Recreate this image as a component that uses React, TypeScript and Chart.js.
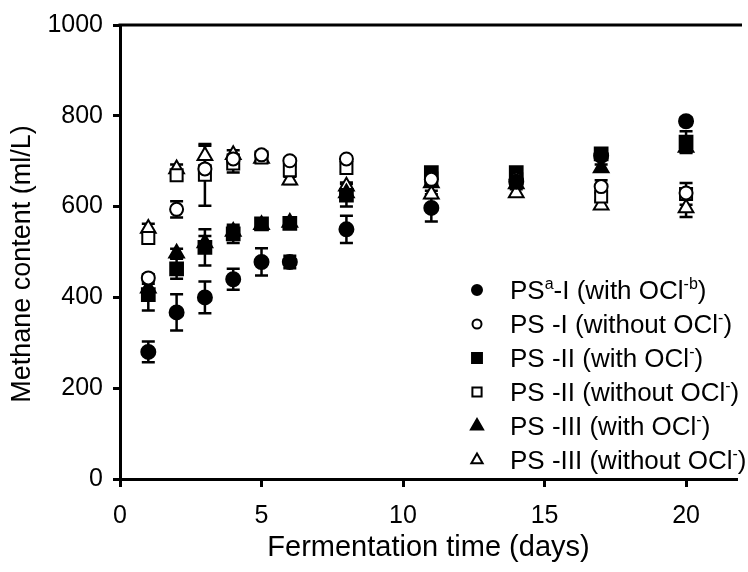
import React, { useEffect, useRef } from "react";
import { Chart, registerables } from "chart.js";
import { drawPoint } from "chart.js/helpers";

Chart.register(...registerables);

// ---------- data ----------
const days = [1, 2, 3, 4, 5, 6, 8, 11, 14, 17, 20];

const ps1With = [280, 367, 400, 440, 478, 478, 550, 597, 655, 712, 788];
const ps1WithErr = [23, 40, 35, 23, 30, 14, 30, 30, 8, 8, 8];

const ps1Without = [443, 594, 683, 705, 714, 701, 705, 660, 660, 644, 630];
const ps1WithoutErr = [8, 18, 8, 8, 6, 6, 6, 8, 8, 14, 8];

const ps2With = [406, 463, 510, 540, 562, 563, 625, 675, 675, 716, 742];
const ps2WithErr = [35, 22, 40, 20, 8, 6, 25, 8, 8, 8, 24];

const ps2Without = [531, 669, 670, 695, 708, 680, 685, 662, 660, 622, 628];
const ps2WithoutErr = [10, 10, 68, 20, 8, 8, 8, 8, 8, 8, 24];

const ps3With = [420, 497, 520, 545, 560, 565, 630, 652, 650, 685, 730];
const ps3WithErr = [10, 10, 15, 10, 8, 8, 8, 8, 8, 8, 10];

const ps3Without = [552, 683, 712, 714, 706, 658, 645, 627, 630, 603, 597];
const ps3WithoutErr = [10, 10, 22, 10, 8, 8, 8, 8, 8, 8, 20];

const xTicks = [0, 5, 10, 15, 20];
const yTicks = [0, 200, 400, 600, 800, 1000];

const xTitle = "Fermentation time (days)";
const yTitle = "Methane content (ml/L)";

// legend labels, ^{...} marks superscript
const legendLabels = [
  "PS^{a}-I (with OCl^{-b})",
  "PS -I (without OCl^{-})",
  "PS -II (with OCl^{-})",
  "PS -II (without OCl^{-})",
  "PS -III (with OCl^{-})",
  "PS -III (without OCl^{-})",
];

const FONT = "'Liberation Sans', Arial, Helvetica, sans-serif";

type SeriesDef = {
  data: number[];
  err: number[];
  style: "circle" | "rect" | "triangle";
  filled: boolean;
  radius: number;
  legendRadius: number;
};

const series: SeriesDef[] = [
  { data: ps1With, err: ps1WithErr, style: "circle", filled: true, radius: 7, legendRadius: 5 },
  { data: ps1Without, err: ps1WithoutErr, style: "circle", filled: false, radius: 6.5, legendRadius: 4.5 },
  { data: ps2With, err: ps2WithErr, style: "rect", filled: true, radius: 9, legendRadius: 7 },
  { data: ps2Without, err: ps2WithoutErr, style: "rect", filled: false, radius: 8.5, legendRadius: 6.5 },
  { data: ps3With, err: ps3WithErr, style: "triangle", filled: true, radius: 8.5, legendRadius: 7 },
  { data: ps3Without, err: ps3WithoutErr, style: "triangle", filled: false, radius: 8.5, legendRadius: 6.5 },
];

function parseSegments(s: string) {
  const out: { t: string; sup: boolean }[] = [];
  const re = /\^\{([^}]*)\}/g;
  let last = 0;
  let m: RegExpExecArray | null;
  while ((m = re.exec(s))) {
    if (m.index > last) out.push({ t: s.slice(last, m.index), sup: false });
    out.push({ t: m[1], sup: true });
    last = m.index + m[0].length;
  }
  if (last < s.length) out.push({ t: s.slice(last), sup: false });
  return out;
}

const errorBarPlugin = {
  id: "errorBars",
  beforeDatasetsDraw(chart: any) {
    const { ctx } = chart;
    const xs = chart.scales.x;
    const ys = chart.scales.y;
    ctx.save();
    ctx.strokeStyle = "#000";
    ctx.lineWidth = 2.5;
    series.forEach((s) => {
      s.data.forEach((v, j) => {
        const e = s.err[j];
        if (!e) return;
        const x = xs.getPixelForValue(days[j]);
        const y1 = ys.getPixelForValue(v + e);
        const y2 = ys.getPixelForValue(v - e);
        const cap = 6.5;
        ctx.beginPath();
        ctx.moveTo(x, y1);
        ctx.lineTo(x, y2);
        ctx.moveTo(x - cap, y1);
        ctx.lineTo(x + cap, y1);
        ctx.moveTo(x - cap, y2);
        ctx.lineTo(x + cap, y2);
        ctx.stroke();
      });
    });
    ctx.restore();
  },
};

const framePlugin = {
  id: "frame",
  afterDraw(chart: any) {
    const { ctx, chartArea } = chart;
    ctx.save();
    ctx.strokeStyle = "#000";
    ctx.lineWidth = 3;
    ctx.beginPath();
    ctx.moveTo(chartArea.left - 1.5, chartArea.top);
    ctx.lineTo(chartArea.right + 5, chartArea.top);
    ctx.stroke();
    // y axis title
    ctx.fillStyle = "#000";
    ctx.font = `27px ${FONT}`;
    ctx.textAlign = "center";
    ctx.textBaseline = "middle";
    ctx.translate(23, 264);
    ctx.rotate(-Math.PI / 2);
    ctx.fillText(yTitle, 0, 0);
    ctx.restore();
  },
};

const legendPlugin = {
  id: "customLegend",
  afterDraw(chart: any) {
    const { ctx } = chart;
    const markerX = 477;
    const textX = 510;
    const rowY0 = 290;
    const rowStep = 34;
    ctx.save();
    legendLabels.forEach((label, i) => {
      const s = series[i];
      const y = rowY0 + i * rowStep;
      ctx.fillStyle = s.filled ? "#000" : "#fff";
      ctx.strokeStyle = "#000";
      ctx.lineWidth = 2;
      drawPoint(
        ctx,
        { pointStyle: s.style, radius: s.legendRadius, borderWidth: 2, rotation: 0 } as any,
        markerX,
        y
      );
      const baseline = y + 9;
      let x = textX;
      ctx.fillStyle = "#000";
      ctx.textBaseline = "alphabetic";
      ctx.textAlign = "left";
      parseSegments(label).forEach((seg) => {
        if (seg.sup) {
          ctx.font = `16px ${FONT}`;
          ctx.fillText(seg.t, x, baseline - 10);
        } else {
          ctx.font = `26px ${FONT}`;
          ctx.fillText(seg.t, x, baseline);
        }
        x += ctx.measureText(seg.t).width;
      });
    });
    ctx.restore();
  },
};

export default function App() {
  const ref = useRef<HTMLCanvasElement>(null);

  useEffect(() => {
    const datasets = series.map((s, i) => ({
      label: legendLabels[i],
      data: s.data.map((v, j) => ({ x: days[j], y: v })),
      showLine: false,
      pointStyle: s.style,
      pointRadius: s.radius,
      pointHoverRadius: s.radius,
      pointBorderWidth: 2,
      pointBackgroundColor: s.filled ? "#000" : "#fff",
      pointBorderColor: "#000",
      backgroundColor: s.filled ? "#000" : "#fff",
      borderColor: "#000",
    }));

    const chart = new Chart(ref.current!, {
      type: "scatter",
      data: { datasets },
      options: {
        animation: false,
        responsive: false,
        devicePixelRatio: 1,
        layout: { padding: { top: 23, right: 0, left: 0, bottom: 0 } },
        plugins: {
          legend: { display: false },
          tooltip: { enabled: false },
        },
        scales: {
          x: {
            type: "linear",
            min: 0,
            max: 21.8,
            afterBuildTicks: (s: any) => {
              s.ticks = xTicks.map((v) => ({ value: v }));
            },
            afterFit: (s: any) => {
              s.height = 93;
            },
            ticks: {
              color: "#000",
              font: { family: FONT, size: 25 },
              padding: 14,
              maxRotation: 0,
              autoSkip: false,
              callback: (v: any) => String(v),
            },
            grid: {
              display: true,
              drawOnChartArea: false,
              drawTicks: true,
              tickLength: 8,
              tickWidth: 3,
              color: "#000",
            },
            border: { display: true, width: 3, color: "#000" },
            title: {
              display: true,
              text: xTitle,
              color: "#000",
              font: { family: FONT, size: 29 },
              padding: { top: 0, bottom: 7 },
            },
          },
          y: {
            type: "linear",
            min: 0,
            max: 1000,
            afterBuildTicks: (s: any) => {
              s.ticks = yTicks.map((v) => ({ value: v }));
            },
            afterFit: (s: any) => {
              s.width = 120;
            },
            ticks: {
              color: "#000",
              font: { family: FONT, size: 25 },
              padding: 10,
              autoSkip: false,
              callback: (v: any) => String(v),
            },
            grid: {
              display: true,
              drawOnChartArea: false,
              drawTicks: true,
              tickLength: 7,
              tickWidth: 3,
              color: "#000",
            },
            border: { display: true, width: 3, color: "#000" },
            title: { display: false, text: yTitle },
          },
        },
      },
      plugins: [errorBarPlugin, framePlugin, legendPlugin],
    } as any);

    return () => chart.destroy();
  }, []);

  return (
    <div
      style={{
        position: "fixed",
        left: 0,
        top: 0,
        width: 748,
        height: 572,
        overflow: "hidden",
        background: "#fff",
      }}
    >
      <canvas ref={ref} width={748} height={572} style={{ width: 748, height: 572, display: "block" }} />
    </div>
  );
}
